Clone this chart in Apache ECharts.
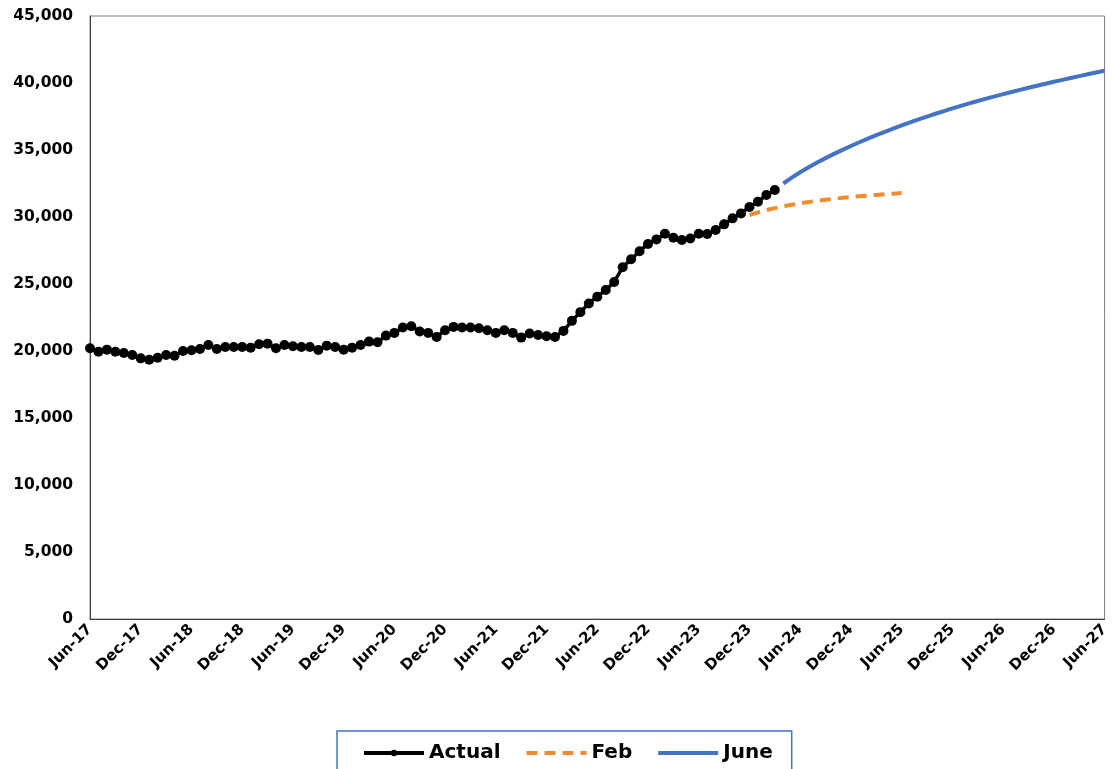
<!DOCTYPE html>
<html>
<head>
<meta charset="utf-8">
<script src="https://cdn.jsdelivr.net/npm/echarts@6/dist/echarts.min.js"></script>
<style>
html,body{margin:0;padding:0;background:#fff;}
#chart{width:1112px;height:769px;}
</style>
</head>
<body>
<div id="chart"></div>
<script>
// Monthly categories Jun-17 .. Jun-27
const monthNames = ['Jan','Feb','Mar','Apr','May','Jun','Jul','Aug','Sep','Oct','Nov','Dec'];
const categories = [];
for (let i = 0; i <= 120; i++) {
  const m = (5 + i) % 12;
  const y = 17 + Math.floor((5 + i) / 12);
  categories.push(monthNames[m] + '-' + y);
}

// Actual: Jun-17 .. Mar-24
const actual = [
  20200, 19950, 20100, 19950, 19850, 19700, 19450, 19350, 19500, 19700, 19650, 20000,
  20050, 20150, 20450, 20150, 20300, 20300, 20300, 20250, 20500, 20550, 20200, 20450,
  20350, 20300, 20300, 20080, 20400, 20300, 20100, 20250, 20450, 20700, 20650, 21150,
  21350, 21750, 21850, 21450, 21350, 21050, 21550, 21800, 21750, 21750, 21700, 21550,
  21350, 21550, 21350, 21000, 21300, 21200, 21100, 21050, 21500, 22250, 22900, 23550,
  24050, 24550, 25150, 26250, 26850, 27450, 27980, 28330, 28750, 28450, 28280, 28400,
  28750, 28730, 29030, 29450, 29900, 30270, 30750, 31140, 31640, 32020
];
const actualStart = 0;

// Feb forecast: Dec-23 .. Jun-25
const feb = [
  30150, 30340, 30510, 30660, 30795, 30915, 31023, 31120, 31208, 31288,
  31361, 31428, 31490, 31547, 31600, 31650, 31697, 31742, 31785
];
const febStart = 78;

// June forecast: Apr-24 .. Jun-27
const june = [
  32500, 32935, 33340, 33715, 34065, 34395, 34710, 35010, 35300, 35580,
  35850, 36110, 36360, 36603, 36838, 37065, 37285, 37498, 37705, 37906,
  38101, 38291, 38476, 38656, 38831, 39002, 39169, 39332, 39491, 39646,
  39798, 39947, 40093, 40236, 40376, 40513, 40648, 40781, 40912
];
const juneStart = 82;

const yTicks = { min: 0, max: 45000, interval: 5000 };

function place(arr, start) {
  const out = new Array(categories.length).fill(null);
  arr.forEach((v, i) => { out[start + i] = v; });
  return out;
}

const chart = echarts.init(document.getElementById('chart'));
const font = '"DejaVu Sans", Verdana, sans-serif';
chart.setOption({
  animation: false,
  backgroundColor: '#fff',
  grid: {
    left: 90, right: 4, top: 16, bottom: 150,
    show: true, borderColor: '#7f7f7f', borderWidth: 1
  },
  xAxis: {
    type: 'category',
    data: categories,
    boundaryGap: false,
    axisLine: { lineStyle: { color: '#404040', width: 1 } },
    axisTick: { show: false },
    axisLabel: {
      interval: 5,
      rotate: 45,
      margin: 8,
      fontFamily: font,
      fontWeight: 'bold',
      fontSize: 15,
      color: '#000'
    },
    splitLine: { show: false }
  },
  yAxis: {
    type: 'value',
    min: yTicks.min, max: yTicks.max, interval: yTicks.interval,
    axisLine: { show: true, lineStyle: { color: '#404040', width: 1 } },
    axisTick: { show: false },
    splitLine: { show: false },
    axisLabel: {
      margin: 17,
      fontFamily: font,
      fontWeight: 'bold',
      fontSize: 15.5,
      color: '#000',
      formatter: v => v.toLocaleString('en-US')
    }
  },
  legend: {
    top: 731,
    left: 337,
    padding: [12, 19, 20, 25],
    borderColor: '#4472C4',
    borderWidth: 1.5,
    itemWidth: 60,
    itemHeight: 8,
    itemGap: 24,
    textStyle: { fontFamily: font, fontWeight: 'bold', fontSize: 20, color: '#000' },
    data: [
      { name: 'Actual', lineStyle: { width: 4, color: '#000' }, itemStyle: { color: '#000' } },
      { name: 'Feb', lineStyle: { width: 4, color: '#F28A2E', type: [11, 7] }, itemStyle: { opacity: 0 } },
      { name: 'June', lineStyle: { width: 4, color: '#4472C4' }, itemStyle: { opacity: 0 } }
    ]
  },
  series: [
    {
      name: 'Actual', type: 'line',
      data: place(actual, actualStart),
      symbol: 'circle', symbolSize: 10,
      showAllSymbol: true,
      lineStyle: { color: '#000', width: 3.5 },
      itemStyle: { color: '#000' },
      z: 3
    },
    {
      name: 'Feb', type: 'line',
      data: place(feb, febStart),
      symbol: 'none',
      lineStyle: { color: '#F28A2E', width: 4, type: [11, 7] },
      itemStyle: { color: '#F28A2E' },
      z: 2
    },
    {
      name: 'June', type: 'line',
      data: place(june, juneStart),
      symbol: 'none',
      lineStyle: { color: '#4472C4', width: 4 },
      itemStyle: { color: '#4472C4' },
      z: 2
    }
  ]
});
</script>
</body>
</html>
